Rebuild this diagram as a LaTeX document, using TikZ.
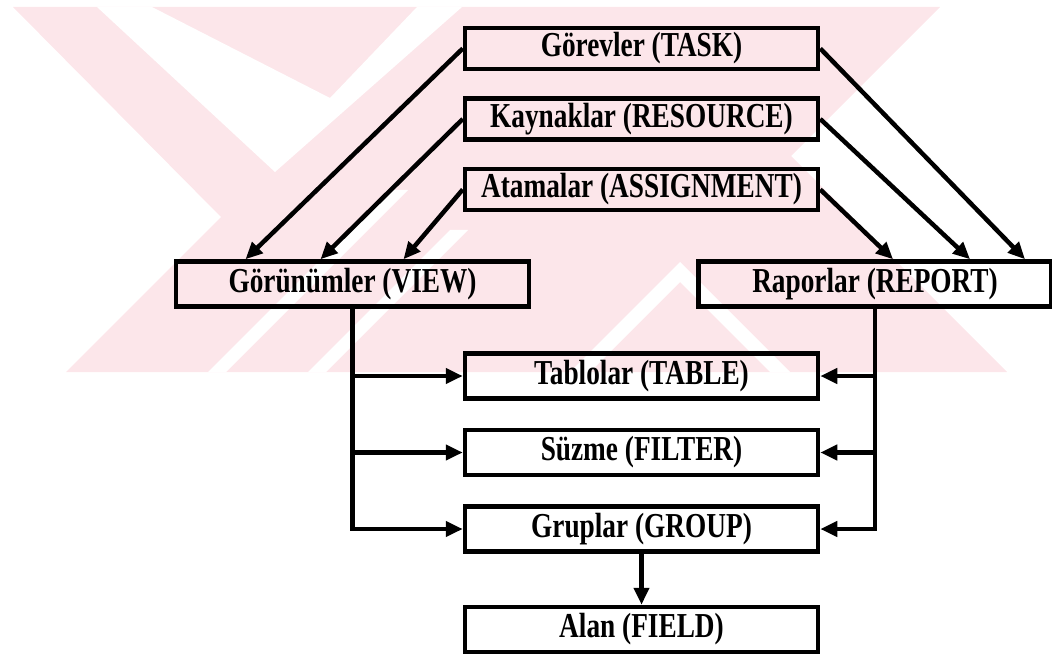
\documentclass[tikz,border=0pt]{standalone}
\usepackage{fontspec}
\setmainfont[FakeStretch=0.78]{Liberation Serif}
\usepackage{xcolor}
\usetikzlibrary{arrows.meta, positioning}
\definecolor{wmpink}{RGB}{252,230,234}
\tikzset{every picture/.style={font issue=\bfseries\fontsize{35}{38}},
         font issue/.style={execute at begin picture={#1\selectfont}}
        }

\begin{document}
\begin{tikzpicture}[x=1pt, y=-1pt, node distance = 25pt,
  box/.style={draw, line width=4.5pt, minimum width=353pt, minimum height=41pt, inner sep=0pt},
  tall/.style={box, minimum height=45pt},
  arr/.style={line width=4.5pt, -{Triangle[length=17pt,width=15pt]}}]
\useasboundingbox (0,0) rectangle (1052,655);

%watermark
\fill[wmpink] (13,7) -- (940,7) -- (791,156) -- (1007,372) -- (66,372) -- (221,217) -- cycle;
\fill[white] (97,7) -- (152,7) -- (330,98) -- (417,7) -- (462,7) -- (275,172) -- cycle;
\begin{scope}
  \clip (13,7) -- (940,7) -- (791,156) -- (1007,372) -- (66,372) -- (221,217) -- cycle;
  \fill[white] (390,190) -- (408,190) -- (226,372) -- (208,372) -- cycle;
  \fill[white] (450,230) -- (468,230) -- (326,372) -- (308,372) -- cycle;
  \fill[white] (680,262) -- (790,372) -- (770,372) -- (680,282) -- (590,372) -- (570,372) -- cycle;
\end{scope}

%sources
\node[box] (task) at (641.5,48.5) {Görevler (TASK)};
\node[box, below = of task] (res) {Kaynaklar (RESOURCE)};
\node[box, below = of res] (assign) {Atamalar (ASSIGNMENT)};

\node[tall] (view) at (352.5,284) {Görünümler (VIEW)};
\node[tall] (report) at (875,284) {Raporlar (REPORT)};

\node[tall] (table) at (641.5,376) {Tablolar (TABLE)};
\node[tall, below = 27pt of table] (filter) {Süzme (FILTER)};
\node[tall, below = 27pt of filter] (group) {Gruplar (GROUP)};
\node[tall, below = 51pt of group] (field) {Alan (FIELD)};

%lines
\draw[arr] (task.west) -- ([xshift=-107pt]view.north);
\draw[arr] (res.west) -- ([xshift=-32pt]view.north);
\draw[arr] (assign.west) -- ([xshift=51pt]view.north);
\draw[arr] (task.east) -- ([xshift=150pt]report.north);
\draw[arr] (res.east) -- ([xshift=95pt]report.north);
\draw[arr] (assign.east) -- ([xshift=18pt]report.north);

\draw[arr] (view.south) |- (group.west);
\draw[arr] (view.south |- table.west) -- (table.west);
\draw[arr] (view.south |- filter.west) -- (filter.west);

\draw[arr] (report.south) |- (group.east);
\draw[arr] (report.south |- table.east) -- (table.east);
\draw[arr] (report.south |- filter.east) -- (filter.east);

\draw[arr] (group) -- (field);

\end{tikzpicture}
\end{document}
